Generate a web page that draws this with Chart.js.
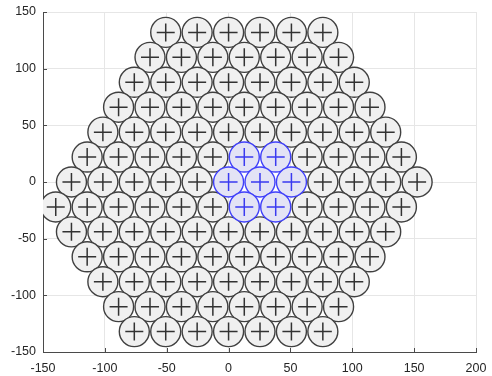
<!DOCTYPE html>
<html>
<head>
<meta charset="utf-8">
<script src="https://cdn.jsdelivr.net/npm/chart.js@4/dist/chart.umd.min.js"></script>
<style>
  html, body { margin: 0; padding: 0; background: #ffffff; }
  #wrap { width: 492px; height: 376px; }
</style>
</head>
<body>
<div id="wrap"><canvas id="c" width="492" height="376"></canvas></div>
<script>
// Row heights (y, mm) of the hexagonal layout, top to bottom
const rowY = [132, 110, 88, 66, 44, 22, 0, -22, -44, -66, -88, -110, -132];
// Element centre x positions (mm) for each row
const rowX = [
  [-50.8, -25.4, 0, 25.4, 50.8, 76.2],
  [-63.5, -38.1, -12.7, 12.7, 38.1, 63.5, 88.9],
  [-76.2, -50.8, -25.4, 0, 25.4, 50.8, 76.2, 101.6],
  [-88.9, -63.5, -38.1, -12.7, 12.7, 38.1, 63.5, 88.9, 114.3],
  [-101.6, -76.2, -50.8, -25.4, 0, 25.4, 50.8, 76.2, 101.6, 127],
  [-114.3, -88.9, -63.5, -38.1, -12.7, 12.7, 38.1, 63.5, 88.9, 114.3, 139.7],
  [-127, -101.6, -76.2, -50.8, -25.4, 0, 25.4, 50.8, 76.2, 101.6, 127, 152.4],
  [-139.7, -114.3, -88.9, -63.5, -38.1, -12.7, 12.7, 38.1, 63.5, 88.9, 114.3, 139.7],
  [-127, -101.6, -76.2, -50.8, -25.4, 0, 25.4, 50.8, 76.2, 101.6, 127],
  [-114.3, -88.9, -63.5, -38.1, -12.7, 12.7, 38.1, 63.5, 88.9, 114.3],
  [-101.6, -76.2, -50.8, -25.4, 0, 25.4, 50.8, 76.2, 101.6],
  [-88.9, -63.5, -38.1, -12.7, 12.7, 38.1, 63.5, 88.9],
  [-76.2, -50.8, -25.4, 0, 25.4, 50.8, 76.2]
];
// Highlighted (blue) elements
const blueX = [12.7, 38.1, 0, 25.4, 50.8, 12.7, 38.1];
const blueY = [22, 22, 0, 0, 0, -22, -22];
// Axis ticks
const xTicks = [-150, -100, -50, 0, 50, 100, 150, 200];
const yTicks = [-150, -100, -50, 0, 50, 100, 150];

const bluePts = blueX.map((x, i) => ({ x: x, y: blueY[i] }));
const isBlue = (x, y) => bluePts.some(p => p.x === x && p.y === y);
const grayPts = [];
rowY.forEach((y, r) => rowX[r].forEach(x => { if (!isBlue(x, y)) grayPts.push({ x: x, y: y }); }));

const inwardTicks = {
  id: 'inwardTicks',
  afterDatasetsDraw(chart) {
    const ctx = chart.ctx, a = chart.chartArea;
    const xs = chart.scales.x, ys = chart.scales.y;
    ctx.save();
    ctx.strokeStyle = '#4a4a4a';
    ctx.lineWidth = 1;
    ctx.beginPath();
    xTicks.forEach(v => {
      const px = Math.round(xs.getPixelForValue(v)) + 0.5;
      ctx.moveTo(px, a.bottom); ctx.lineTo(px, a.bottom - 4);
    });
    yTicks.forEach(v => {
      const py = Math.round(ys.getPixelForValue(v)) + 0.5;
      ctx.moveTo(a.left, py); ctx.lineTo(a.left + 4, py);
    });
    ctx.stroke();
    ctx.restore();
  }
};

new Chart(document.getElementById('c'), {
  type: 'scatter',
  data: {
    datasets: [
      { data: bluePts, pointStyle: 'cross', pointRadius: 9, borderColor: '#3a3af0', borderWidth: 1.5, pointHoverRadius: 9 },
      { data: bluePts, pointStyle: 'circle', pointRadius: 15, backgroundColor: '#e3e3f5', borderColor: '#4040fa', borderWidth: 1.4, pointHoverRadius: 15 },
      { data: grayPts, pointStyle: 'cross', pointRadius: 9, borderColor: '#333333', borderWidth: 1.5, pointHoverRadius: 9 },
      { data: grayPts, pointStyle: 'circle', pointRadius: 15, backgroundColor: '#f0f0f0', borderColor: '#404040', borderWidth: 1.4, pointHoverRadius: 15 }
    ]
  },
  options: {
    responsive: false,
    animation: false,
    events: [],
    layout: { autoPadding: false, padding: { left: 0, top: 12, right: 16, bottom: 0 } },
    plugins: { legend: { display: false }, tooltip: { enabled: false } },
    scales: {
      x: {
        type: 'linear', min: -150, max: 200,
        afterBuildTicks: s => { s.ticks = xTicks.map(v => ({ value: v })); },
        afterFit: s => { s.height = 24; s.paddingLeft = 0; s.paddingRight = 0; },
        ticks: { color: '#262626', font: { family: 'Liberation Sans, Arial, sans-serif', size: 12.5 }, padding: 9, maxRotation: 0 },
        grid: { color: '#e6e6e6', drawTicks: false },
        border: { color: '#4a4a4a', width: 1 }
      },
      y: {
        type: 'linear', min: -150, max: 150,
        afterBuildTicks: s => { s.ticks = yTicks.map(v => ({ value: v })); },
        afterFit: s => { s.width = 43; s.paddingTop = 0; s.paddingBottom = 0; },
        ticks: { color: '#262626', font: { family: 'Liberation Sans, Arial, sans-serif', size: 12.5 }, padding: 7 },
        grid: { color: '#e6e6e6', drawTicks: false },
        border: { color: '#4a4a4a', width: 1 }
      }
    }
  },
  plugins: [inwardTicks]
});
</script>
</body>
</html>
